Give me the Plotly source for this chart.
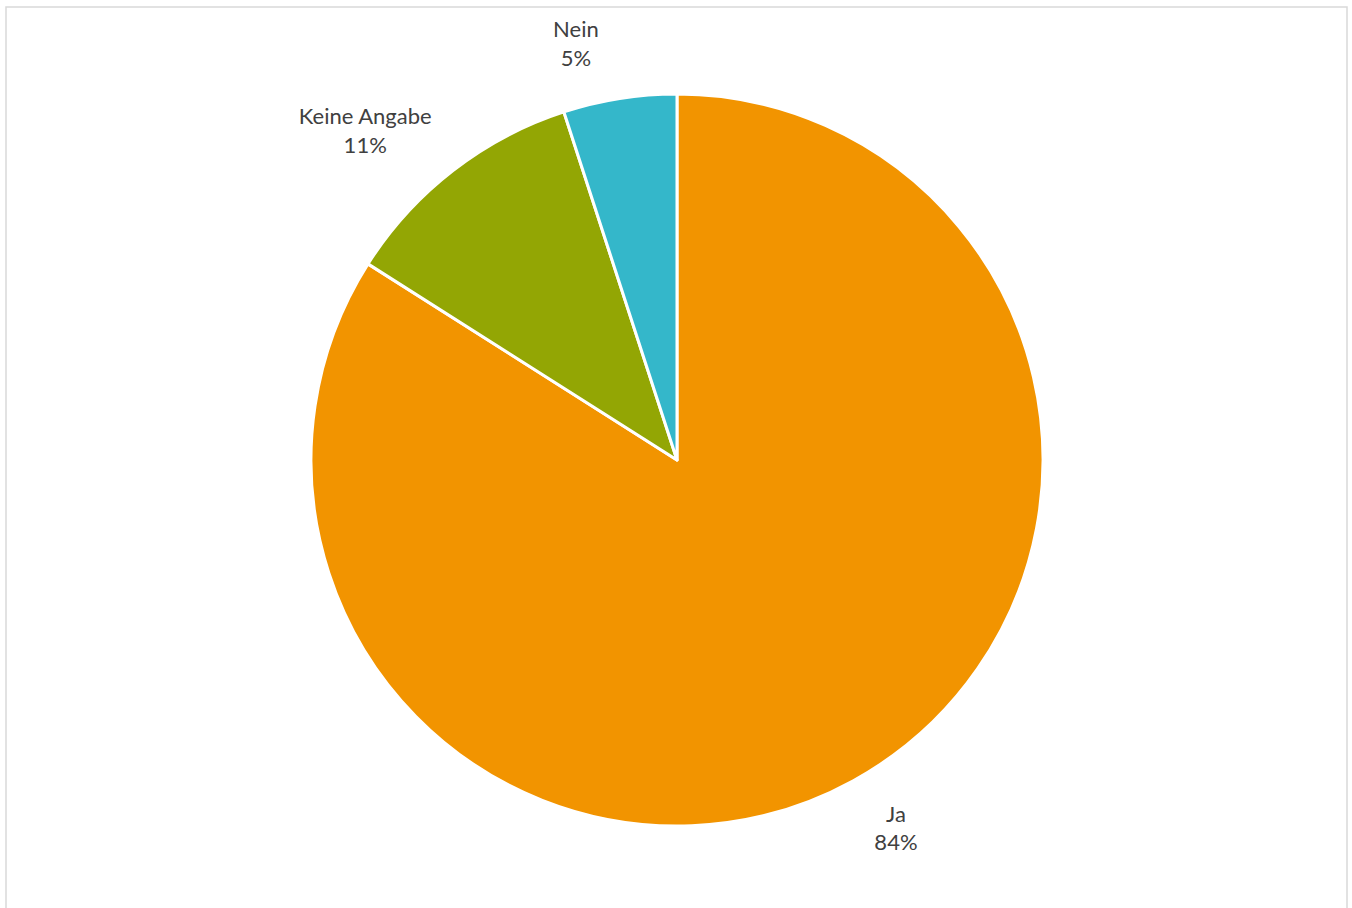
import plotly.graph_objects as go

labels = ["Ja", "Keine Angabe", "Nein"]
values = [84, 11, 5]
colors = ["#F29400", "#93A604", "#34B7CA"]

W, H = 1352, 908
cx, cy, r = 677, 460, 366

# blank line on the pie-side of each label pushes the text a little further out
templates = [
    "\u00a0<br>%{label}<br>%{percent:.0%}",
    "%{label}<br>%{percent:.0%}<br>\u00a0",
    "%{label}<br>%{percent:.0%}<br>\u00a0",
]

fig = go.Figure(go.Pie(
    labels=labels,
    values=values,
    sort=False,
    direction="clockwise",
    rotation=0,
    marker=dict(colors=colors, line=dict(color="white", width=3)),
    texttemplate=templates,
    textposition="outside",
    textfont=dict(family="Lato, Open Sans, sans-serif", size=22, color="#404040"),
    showlegend=False,
    hoverinfo="label+percent",
    domain=dict(x=[(cx - r) / W, (cx + r) / W], y=[1 - (cy + r) / H, 1 - (cy - r) / H]),
))

fig.update_layout(
    width=W, height=H,
    margin=dict(l=0, r=0, t=0, b=0),
    paper_bgcolor="white",
    plot_bgcolor="white",
    shapes=[dict(type="rect", xref="paper", yref="paper",
                 x0=6 / W, x1=1347 / W, y0=-0.05, y1=1 - 7 / H,
                 line=dict(color="#D9D9D9", width=1.5), fillcolor="rgba(0,0,0,0)", layer="below")],
)

fig.write_html("out.html", config={"displayModeBar": False},
               post_script="document.body.style.margin='0';")
